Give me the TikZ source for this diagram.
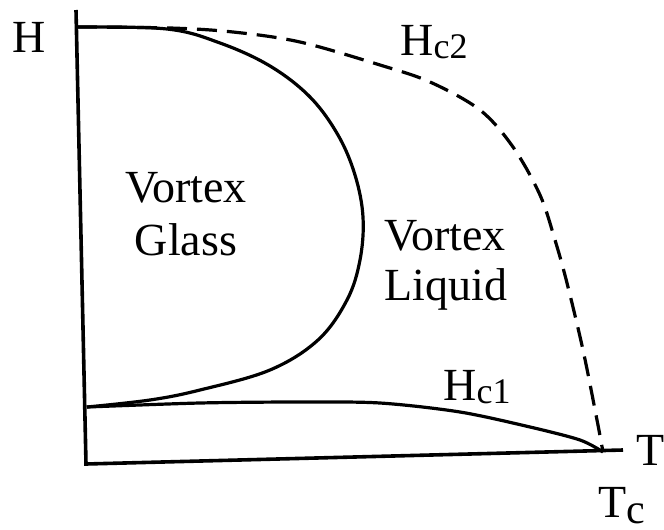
\documentclass[tikz,border=0pt]{standalone}
\usepackage{fontspec}
\setmainfont{Liberation Serif}
\newcommand\mysub[1]{\raisebox{-1.5pt}{\fontsize{18}{18}\selectfont #1}}
\begin{document}
\begin{tikzpicture}[x=0.5pt,y=-0.5pt,
  lab/.style={font=\fontsize{23}{23}\selectfont, inner sep=0pt},
  axisline/.style={line width=1.8pt},
  curveline/.style={line width=1.6pt, line join=round},
  dashline/.style={line width=1.6pt, dash pattern=on 10pt off 5pt}]
\useasboundingbox (0,0) rectangle (664,530);
% axes
\coordinate (top) at (76,10);
\coordinate (origin) at (86,464);
\coordinate (tend) at (623,450);
\draw[axisline] (top) -- (origin) -- (tend);
% vortex glass boundary
\draw[curveline] plot[smooth, tension=0.6] coordinates {
  (77,27) (167,29) (220,43) (270,66) (310,97) (338,135) (355,175)
  (363,217) (360,260) (347,300) (318,340) (270,370) (200,390)
  (150,400) (87,407)};
% Hc1
\draw[curveline] plot[smooth, tension=0.5] coordinates {
  (87,407) (200,403) (300,402) (380,403) (460,412) (530,427) (580,440) (603,452)};
% Hc2
\draw[dashline] plot[smooth, tension=0.55] coordinates {
  (77,27) (170,28) (233,32) (300,42) (380,65) (430,82) (480,110)
  (513,147) (540,195) (555,240) (567,283) (583,350) (597,420) (603,452)};
% labels
\node[lab, anchor=base] (hlab) at (29,52) {H};
\node[lab, anchor=base west] (hc2) at (400,55) {H\mysub{c2}};
\node[lab, anchor=base] (vg1) at (186,202) {Vortex};
\node[lab, anchor=base] (vg2) at (186,255) {Glass};
\node[lab, anchor=base] (vl1) at (445,250) {Vortex};
\node[lab, anchor=base] (vl2) at (446,300) {Liquid};
\node[lab, anchor=base west] (hc1) at (443,400) {H\mysub{c1}};
\node[lab, anchor=base west] (tax) at (636,465) {T};
\node[lab, anchor=base west] (tc) at (598,517) {T\raisebox{-3pt}{\fontsize{21}{21}\selectfont c}};
\end{tikzpicture}
\end{document}
